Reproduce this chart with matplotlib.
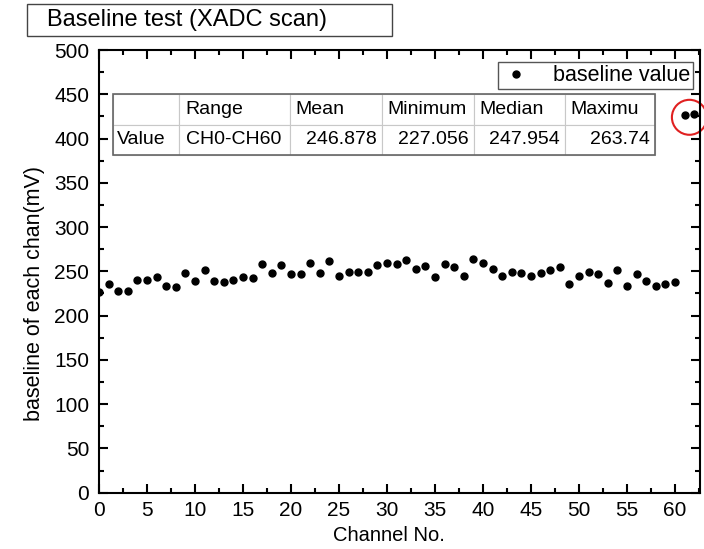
import matplotlib
matplotlib.use("Agg")
import matplotlib.pyplot as plt
from matplotlib.patches import Ellipse, Rectangle
from matplotlib.ticker import MultipleLocator

plt.rcParams['font.family'] = ['Liberation Sans', 'DejaVu Sans']

# baseline per channel (mV)
channels = list(range(0, 64))
baseline = [227.1, 235.6, 228.0, 228.0, 240.1, 240.1, 243.9, 233.4, 231.8, 247.6,
            239.0, 251.8, 239.0, 237.9, 240.1, 243.9, 242.4, 257.8, 247.6, 257.1,
            247.2, 247.2, 258.9, 248.0, 261.9, 244.2, 249.8, 248.7, 248.7, 257.1,
            259.3, 258.2, 262.7, 253.2, 255.9, 243.9, 258.2, 254.4, 245.3, 263.7,
            258.9, 253.2, 245.0, 249.5, 248.4, 244.2, 248.4, 251.0, 254.8, 235.6,
            245.0, 249.5, 246.5, 236.7, 251.4, 234.0, 246.5, 239.0, 233.4, 235.6,
            237.4, 427.0, 428.0, 429.0]

col_labels = ["", "Range", "Mean", "Minimum", "Median", "Maximu"]
row_values = ["Value", "CH0-CH60", "246.878", "227.056", "247.954", "263.74"]
col_widths = [66, 111, 92, 92, 91, 90]

fig = plt.figure(figsize=(7.04, 5.49), dpi=100)
ax = fig.add_axes([0.1406, 0.1026, 0.8537, 0.8063])

ax.plot(channels, baseline, 'o', color='black', markersize=5, label='baseline value')

ax.set_xlim(0, 62.6)
ax.set_ylim(0, 500)
ax.xaxis.set_major_locator(MultipleLocator(5))
ax.xaxis.set_minor_locator(MultipleLocator(2.5))
ax.yaxis.set_major_locator(MultipleLocator(50))
ax.yaxis.set_minor_locator(MultipleLocator(25))
ax.tick_params(which='both', direction='in', top=True, right=True, width=1.5, labelsize=15)
ax.tick_params(which='major', length=6.7)
ax.tick_params(which='minor', length=3.6)
ax.tick_params(axis='x', pad=6)
ax.tick_params(axis='y', pad=7)
for s in ax.spines.values():
    s.set_linewidth(1.5)

ax.set_xlabel("Channel No.", fontsize=14.5)
ax.set_ylabel("baseline of each chan(mV)", fontsize=15.5)
ax.xaxis.set_label_coords(0.482, -0.075)
ax.yaxis.set_label_coords(-0.09, 0.449)

leg = ax.legend(loc='upper right', bbox_to_anchor=(693 / 704, 1 - 62 / 549),
                bbox_transform=fig.transFigure, borderaxespad=0, fancybox=False,
                fontsize=15.5, handletextpad=1.0, handlelength=1.4, borderpad=0.15,
                framealpha=1)
leg.get_frame().set_edgecolor('#555555')
leg.get_frame().set_linewidth(1)

# stats table
tot = sum(col_widths)
tab = ax.table(cellText=[row_values], colLabels=col_labels,
               colWidths=[w / tot for w in col_widths],
               bbox=[0.0233, 0.7628, 0.9017, 0.1378])
tab.auto_set_font_size(False)
tab.set_fontsize(14)
for (r, c), cell in tab.get_celld().items():
    cell.set_edgecolor('#c8c8c8')
    cell.set_linewidth(0.8)
    cell.PAD = 0.06
    if r == 0 or c < 2:
        cell._loc = 'left'
        cell.get_text().set_horizontalalignment('left')
    else:
        cell._loc = 'right'
        cell.get_text().set_horizontalalignment('right')
ax.add_patch(Rectangle((0.0233, 0.7628), 0.9017, 0.1378, transform=ax.transAxes,
                       fill=False, edgecolor='#666666', lw=1.2, zorder=5))

# red circle around the outliers
ax.add_patch(Ellipse((61.5, 424), 3.65, 39.5, fill=False, edgecolor='#e02020',
                     lw=1.5, clip_on=False))

# title box
fig.add_artist(Rectangle((27 / 704, 1 - 36 / 549), 365 / 704, 32 / 549,
                         transform=fig.transFigure, fill=False, edgecolor='#444444', lw=1))
fig.text(47 / 704, 1 - 20 / 549, "Baseline test (XADC scan)", fontsize=17, va='center')

fig.savefig("out.png", dpi=100)
